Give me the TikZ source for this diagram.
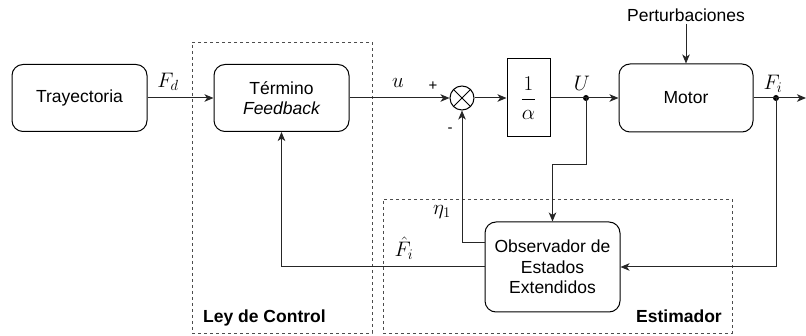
\RequirePackage{fix-cm}
\documentclass[tikz,border=0pt]{standalone}
\usepackage{fontspec}
\setmainfont{Liberation Sans}
\usepackage{amsmath}
\usetikzlibrary{arrows.meta,calc}
\tikzset{
  blk/.style={draw=black, line width=1pt, rounded corners=11pt, align=center,
    inner sep=0pt, font=\fontsize{17.5}{20.5}\selectfont},
  sqbox/.style={draw=black, line width=1pt, inner sep=0pt},
  group/.style={draw=black!70, line width=0.9pt, dash pattern=on 3pt off 3pt, inner sep=0pt},
  conn/.style={draw=black!85, line width=1pt, -{Stealth[length=9pt,width=7.5pt,inset=2.5pt]}},
  mlabel/.style={inner sep=0pt, font=\fontsize{21}{25}\selectfont},
  slabel/.style={inner sep=0pt, font=\fontsize{15}{18}\selectfont},
  glabel/.style={inner sep=0pt, font=\fontsize{17.5}{20}\selectfont\bfseries},
  dot/.style={circle, fill=black, inner sep=0pt, minimum size=6pt},
}
\begin{document}
\begin{tikzpicture}[x=1pt,y=-1pt]
\useasboundingbox (0,0) rectangle (806,336);
% groups
\node[group, minimum width=180pt, minimum height=291pt] (ley) at (282,187.5) {};
\node[group, minimum width=349pt, minimum height=134pt] (est) at (557.5,266) {};
\node[glabel, anchor=base west] (leyl) at (203,323) {Ley de Control};
\node[glabel, anchor=base east] (estl) at (722,323) {Estimador};
% blocks
\node[blk, minimum width=135pt, minimum height=67pt] (tray) at (79.5,98) {Trayectoria};
\node[blk, minimum width=135pt, minimum height=67pt] (term) at (281.5,98) {Término\\\itshape Feedback};
\node[draw=black, line width=1pt, circle, minimum size=24pt, inner sep=0pt] (sum) at (462,98) {};
\draw[line width=1pt] (sum.45) -- (sum.225) (sum.135) -- (sum.-45);
\node[sqbox, minimum width=43pt, minimum height=78pt] (alpha) at (528.5,98) {\fontsize{21}{25}\selectfont$\displaystyle\frac{1}{\alpha}$};
\node[blk, minimum width=134pt, minimum height=68pt] (motor) at (686,98) {Motor};
\node[blk, minimum width=135pt, minimum height=90pt] (obs) at (552.5,267) {Observador de\\Estados\\Extendidos};
\node[inner sep=2pt, font=\fontsize{17.5}{20}\selectfont] (pert) at (686,15) {Perturbaciones};
% junctions
\node[dot] (jU) at (586,98) {};
\node[dot] (jF) at (776,98) {};
\coordinate (outF) at (806,98);
\coordinate (bU) at (586,165);
% connectors
\draw[conn] (tray) -- (term);
\draw[conn] (term) -- (sum);
\draw[conn] (sum) -- (alpha);
\draw[conn] (alpha) -- (motor);
\draw[conn] (motor) -- (outF);
\draw[conn] (pert) -- (motor);
\draw[conn] (jU.center) -- (bU) -| (obs.north);
\draw[conn] (jF.center) |- (obs.east);
\draw[conn] ([yshift=24pt]obs.west) -| (sum.south);
\draw[conn] (obs.west) -| (term.south);
% labels
\node[mlabel] (lFd) at (168,82) {$F_d$};
\node[mlabel] (lu) at (398,83) {$u$};
\node[mlabel] (lU) at (582,83) {$U$};
\node[mlabel] (lFi) at (773,84) {$F_i$};
\node[mlabel] (leta) at (442,212) {$\eta_1$};
\node[mlabel] (lFh) at (404,248) {$\hat{F}_i$};
\node[slabel] (lplus) at (433,86) {+};
\node[slabel] (lminus) at (450,130) {-};
\end{tikzpicture}
\end{document}
